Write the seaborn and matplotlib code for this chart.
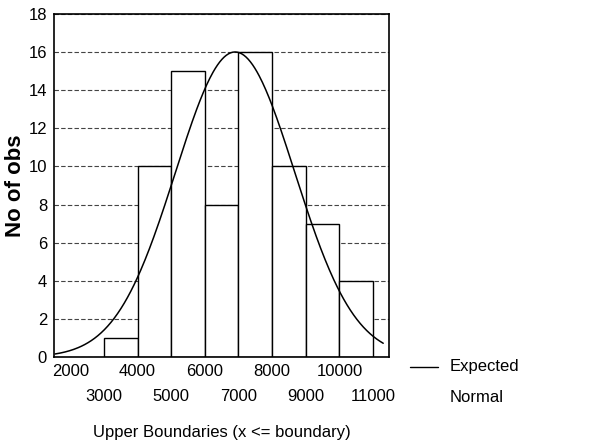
import numpy as np
import pandas as pd
import matplotlib
matplotlib.use("Agg")
import matplotlib.pyplot as plt
import seaborn as sns

# Data
bin_edges = [3000, 4000, 5000, 6000, 7000, 8000, 9000, 10000, 11000]
counts = [1, 10, 15, 8, 16, 10, 7, 4]
row1_ticks = [2000, 4000, 6000, 8000, 10000]
row2_ticks = [3000, 5000, 7000, 9000, 11000]
y_ticks = [0, 2, 4, 6, 8, 10, 12, 14, 16, 18]

# Expected normal parameters
normal_mean = 6900
normal_sd = 1770
n_obs = sum(counts)
bin_width = 1000
curve_start, curve_end = 1550, 11300

sns.set_theme(style="white")
plt.rcParams['font.family'] = ['Liberation Sans', 'DejaVu Sans']
plt.rcParams['text.color'] = 'black'
plt.rcParams['axes.labelcolor'] = 'black'
plt.rcParams['xtick.color'] = 'black'
plt.rcParams['ytick.color'] = 'black'

fig = plt.figure(figsize=(6.14, 4.47), dpi=100)
ax = fig.add_axes([0.088, 0.201, 0.546, 0.768])

mids = [(a + b) / 2 for a, b in zip(bin_edges[:-1], bin_edges[1:])]
df = pd.DataFrame({"x": mids, "w": counts})
sns.histplot(data=df, x="x", weights="w", bins=bin_edges, ax=ax,
             color="white", edgecolor="black", linewidth=1.0, alpha=1.0, zorder=2)

xs = np.linspace(curve_start, curve_end, 300)
ys = n_obs * bin_width / (normal_sd * np.sqrt(2 * np.pi)) * np.exp(-0.5 * ((xs - normal_mean) / normal_sd) ** 2)
sns.lineplot(x=xs, y=ys, ax=ax, color="black", linewidth=1.1, zorder=3)

ax.set_xlim(1520, 11480)
ax.set_ylim(0, 18)
ax.set_yticks(y_ticks)
ax.set_yticklabels([str(v) for v in y_ticks], fontsize=12)
ax.set_xticks(row1_ticks)
ax.set_xticklabels([str(v) for v in row1_ticks], fontsize=12)
ax.set_xticks(row2_ticks, minor=True)
ax.set_xticklabels([str(v) for v in row2_ticks], minor=True, fontsize=12)
ax.tick_params(axis="both", which="major", length=0, pad=5)
ax.tick_params(axis="x", which="minor", length=0, pad=23)
ax.yaxis.grid(True, linestyle=(0, (4, 2)), color="#444444", linewidth=0.8, zorder=0)
ax.xaxis.grid(False, which="both")
ax.set_axisbelow(True)
for s in ax.spines.values():
    s.set_color("black")
    s.set_linewidth(1.2)

ax.set_ylabel("No of obs", fontsize=16, fontweight="bold", labelpad=2)
ax.set_xlabel("Upper Boundaries (x <= boundary)", fontsize=12, labelpad=15)

# Legend drawn manually in figure coordinates
fig.add_artist(plt.Line2D([410 / 614, 438 / 614], [1 - 367 / 447, 1 - 367 / 447],
                          color="black", linewidth=1.0))
fig.text(450 / 614, 1 - 367 / 447, "Expected", fontsize=12, va="center", ha="left")
fig.text(450 / 614, 1 - 397 / 447, "Normal", fontsize=12, va="center", ha="left")

fig.savefig("out.png", dpi=100)
